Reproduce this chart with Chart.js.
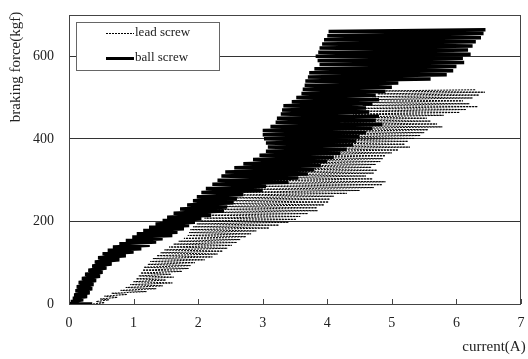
<!DOCTYPE html>
<html lang="en">
<head>
  <meta charset="UTF-8">
  <title>braking force vs current</title>
  <script src="https://cdn.jsdelivr.net/npm/chart.js"></script>
  <style>
    html, body {
      margin: 0;
      padding: 0;
      background: #fff;
    }
    .chart-box {
      width: 528px;
      height: 359px;
      position: relative;
    }
  </style>
</head>
<body>
  <div class="chart-box">
    <canvas id="chart"></canvas>
  </div>

  <script>
    // tick labels
    const xTicks = [0, 1, 2, 3, 4, 5, 6, 7];
    const yTicks = [0, 200, 400, 600];

    // lead screw: current (A) / braking force (kgf)
    const leadCurrent = [
      0.37, 0.55, 0.42, 0.62, 0.48, 0.75, 0.55, 0.90, 0.66, 1.20,
      0.80, 1.35, 0.88, 1.45, 0.95, 1.60, 1.00, 1.50, 1.04, 1.62,
      1.08, 1.58, 1.11, 1.75, 1.14, 1.85, 1.16, 1.88, 1.22, 1.95,
      1.26, 2.10, 1.30, 2.22, 1.36, 2.30, 1.42, 2.38, 1.48, 2.45,
      1.55, 2.52, 1.62, 2.60, 1.70, 2.65, 1.78, 2.74, 1.84, 2.82,
      1.86, 2.90, 1.88, 3.10, 1.92, 3.25, 1.98, 3.40, 2.04, 3.52,
      2.10, 3.58, 2.14, 3.70, 2.20, 3.85, 2.26, 3.84, 2.32, 3.95,
      2.38, 4.02, 2.45, 4.04, 2.52, 4.10, 2.58, 4.30, 2.65, 4.50,
      2.80, 4.72, 2.92, 4.85, 3.00, 4.90, 3.10, 4.70, 3.20, 4.60,
      3.28, 4.72, 3.32, 4.77, 3.40, 4.68, 3.46, 4.75, 3.52, 4.82,
      3.56, 4.86, 3.62, 4.90, 3.68, 5.00, 3.72, 5.10, 3.78, 5.28,
      3.84, 5.20, 3.90, 5.25, 3.95, 5.35, 4.00, 5.44, 4.05, 5.50,
      4.10, 5.56, 4.15, 5.78, 4.20, 5.70, 4.25, 5.60, 4.30, 5.54,
      4.35, 5.80, 4.40, 6.05, 4.45, 6.15, 4.50, 6.33, 4.55, 6.20,
      4.60, 6.10, 4.65, 6.25, 4.70, 6.35, 4.78, 6.44, 4.85, 6.30
    ];
    const leadForce = [
      0, 3, 6, 10, 12, 16, 19, 23, 26, 30,
      33, 37, 40, 44, 47, 51, 54, 58, 61, 65,
      68, 72, 75, 79, 82, 86, 89, 93, 96, 100,
      103, 107, 110, 114, 117, 121, 124, 128, 131, 135,
      138, 142, 145, 149, 152, 156, 159, 163, 166, 170,
      173, 177, 180, 184, 187, 191, 194, 198, 201, 205,
      208, 212, 215, 219, 222, 226, 229, 233, 236, 240,
      243, 247, 250, 254, 257, 261, 264, 268, 271, 275,
      278, 282, 285, 289, 292, 296, 299, 303, 306, 310,
      313, 317, 320, 324, 327, 331, 334, 338, 341, 345,
      348, 352, 355, 359, 362, 366, 369, 373, 376, 380,
      383, 387, 390, 394, 397, 401, 404, 408, 411, 415,
      418, 422, 425, 429, 432, 436, 439, 443, 446, 450,
      453, 457, 460, 464, 467, 471, 474, 478, 481, 485,
      488, 492, 495, 499, 502, 506, 509, 513, 516, 519
    ];

    // ball screw
    const ballCurrent = [
      0.36, 0.00, 0.10, 0.03, 0.22, 0.06, 0.28, 0.08, 0.32, 0.10, 0.36,
      0.12, 0.38, 0.15, 0.42, 0.20, 0.48, 0.25, 0.52, 0.30, 0.58,
      0.36, 0.66, 0.40, 0.78, 0.45, 0.88, 0.52, 1.00, 0.60, 1.12,
      0.68, 1.25, 0.78, 1.35, 0.88, 1.45, 0.98, 1.60, 1.05, 1.68,
      1.15, 1.78, 1.24, 1.86, 1.34, 1.95, 1.45, 2.05, 1.52, 2.20,
      1.62, 2.40, 1.72, 2.45, 1.83, 2.55, 1.92, 2.60, 1.98, 2.70,
      2.05, 3.00, 2.12, 3.05, 2.22, 3.40, 2.30, 3.55, 2.36, 3.70,
      2.42, 3.80, 2.56, 3.90, 2.70, 4.00, 2.85, 4.10, 2.95, 4.20,
      3.05, 4.30, 3.08, 4.40, 3.05, 4.45, 3.02, 4.50, 3.00, 4.60,
      3.00, 4.70, 3.12, 4.85, 3.20, 4.75, 3.22, 4.80, 3.28, 4.65,
      3.30, 4.60, 3.32, 4.70, 3.45, 4.80, 3.52, 4.75, 3.60, 4.90,
      3.62, 5.00, 3.65, 5.10, 3.66, 5.60, 3.70, 5.85, 3.72, 5.95,
      3.80, 6.00, 3.88, 6.12, 3.85, 6.10, 3.82, 6.22, 3.86, 6.18,
      3.88, 6.25, 3.92, 6.30, 3.95, 6.38, 4.00, 6.42, 4.02, 6.45
    ];
    const ballForce = [
      0, 0, 3, 6, 10, 14, 18, 22, 27, 32, 37,
      42, 47, 52, 57, 62, 67, 72, 77, 82, 87,
      92, 97, 102, 107, 112, 117, 122, 126, 130, 134,
      138, 142, 146, 150, 154, 158, 162, 166, 170, 174,
      178, 182, 186, 190, 194, 198, 202, 206, 210, 215,
      220, 225, 230, 235, 240, 245, 250, 255, 260, 265,
      270, 275, 280, 285, 290, 295, 300, 305, 310, 315,
      320, 325, 330, 335, 340, 345, 350, 355, 360, 365,
      370, 375, 380, 385, 390, 395, 400, 405, 410, 415,
      420, 425, 430, 435, 440, 445, 450, 455, 460, 465,
      470, 475, 480, 485, 490, 495, 500, 505, 510, 515,
      520, 525, 530, 535, 540, 545, 550, 555, 560, 565,
      570, 575, 580, 585, 590, 595, 600, 605, 610, 615,
      620, 625, 630, 635, 640, 645, 650, 655, 660, 664
    ];

    const serif = "'Liberation Serif', 'Times New Roman', serif";

    function toPoints(xs, ys) {
      return xs.map((x, i) => ({ x: x, y: ys[i] }));
    }

    // frame, inner x ticks, axis titles and the boxed legend
    const decorations = {
      id: "decorations",
      afterDraw(chart) {
        const ctx = chart.ctx;
        const a = chart.chartArea;
        const xs = chart.scales.x;
        ctx.save();

        ctx.strokeStyle = "#444";
        ctx.lineWidth = 1;
        ctx.strokeRect(a.left + 0.5, a.top + 0.5, a.right - a.left - 1, a.bottom - a.top);

        ctx.beginPath();
        xTicks.forEach(v => {
          const px = Math.round(xs.getPixelForValue(v)) + 0.5;
          ctx.moveTo(px, a.bottom);
          ctx.lineTo(px, a.bottom - 5);
        });
        ctx.stroke();

        ctx.fillStyle = "#222";
        ctx.font = "15px " + serif;
        ctx.textAlign = "center";
        ctx.textBaseline = "middle";
        ctx.fillText("current(A)", 494, 347);

        ctx.translate(16, 67);
        ctx.rotate(-Math.PI / 2);
        ctx.fillText("braking force(kgf)", 0, 0);
        ctx.setTransform(1, 0, 0, 1, 0, 0);

        // legend
        ctx.fillStyle = "#fff";
        ctx.fillRect(76, 22, 143, 48);
        ctx.strokeStyle = "#666";
        ctx.strokeRect(76.5, 22.5, 143, 48);

        const sets = chart.data.datasets;
        const rows = [33, 58];
        ctx.font = "13px " + serif;
        ctx.textAlign = "left";
        sets.forEach((ds, i) => {
          const y = rows[i] + 0.5;
          ctx.strokeStyle = "#000";
          ctx.lineWidth = i === 0 ? 1 : 3;
          ctx.setLineDash(ds.borderDash || []);
          ctx.beginPath();
          ctx.moveTo(106, y);
          ctx.lineTo(134, y);
          ctx.stroke();
          ctx.setLineDash([]);
          ctx.fillStyle = "#222";
          ctx.fillText(ds.label, 135, rows[i]);
        });
        ctx.restore();
      }
    };

    new Chart(document.getElementById("chart"), {
      type: "scatter",
      data: {
        datasets: [
          {
            label: "lead screw",
            data: toPoints(leadCurrent, leadForce),
            showLine: true,
            borderColor: "#000",
            borderWidth: 1,
            borderDash: [2, 1],
            borderJoinStyle: "bevel",
            pointRadius: 0,
            tension: 0
          },
          {
            label: "ball screw",
            data: toPoints(ballCurrent, ballForce),
            showLine: true,
            borderColor: "#000",
            borderWidth: 3.5,
            borderJoinStyle: "bevel",
            pointRadius: 0,
            tension: 0
          }
        ]
      },
      options: {
        responsive: true,
        maintainAspectRatio: false,
        animation: false,
        layout: {
          padding: { top: 15, right: 7, left: 0, bottom: 0 }
        },
        plugins: {
          legend: { display: false },
          tooltip: { enabled: false }
        },
        scales: {
          x: {
            type: "linear",
            min: 0,
            max: 7,
            afterFit: s => {
              s.height = 55;
              s.paddingLeft = 0;
              s.paddingRight = 0;
            },
            afterBuildTicks: s => { s.ticks = xTicks.map(v => ({ value: v })); },
            grid: { drawOnChartArea: false, drawTicks: false },
            border: { display: false },
            ticks: {
              padding: 11,
              color: "#222",
              font: { family: serif, size: 14 }
            }
          },
          y: {
            type: "linear",
            min: 0,
            max: 700,
            afterFit: s => {
              s.width = 69;
              s.paddingTop = 0;
              s.paddingBottom = 0;
            },
            afterBuildTicks: s => { s.ticks = yTicks.map(v => ({ value: v })); },
            grid: { color: "#333", drawTicks: false },
            border: { display: false },
            ticks: {
              padding: 15,
              color: "#222",
              font: { family: serif, size: 14 }
            }
          }
        }
      },
      plugins: [decorations]
    });
  </script>
</body>
</html>
